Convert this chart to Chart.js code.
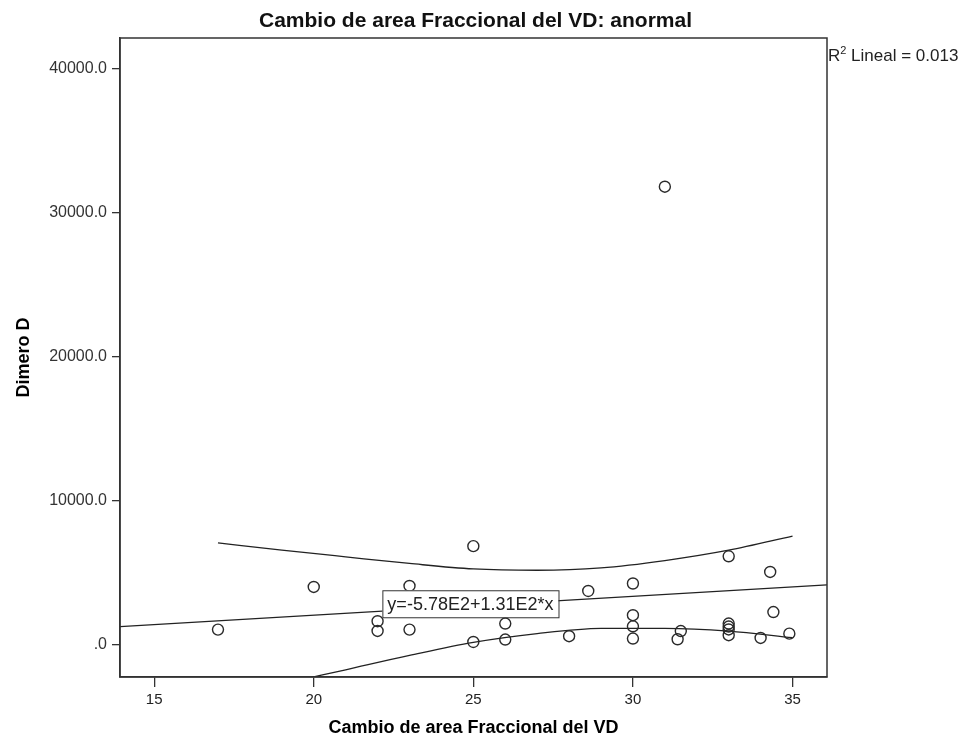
<!DOCTYPE html>
<html><head><meta charset="utf-8">
<script src="https://cdn.jsdelivr.net/npm/chart.js@4.4.1/dist/chart.umd.min.js"></script>
<style>html,body{margin:0;padding:0;background:#fff}</style>
</head><body>
<canvas id="c" width="962" height="746" style="display:block;width:962px;height:746px"></canvas>
<script>
const chartTitle = 'Cambio de area Fraccional del VD: anormal';
const xAxisTitle = 'Cambio de area Fraccional del VD';
const yAxisTitle = 'Dimero D';
const xTicks = [15, 20, 25, 30, 35];
const yTicks = [0, 10000, 20000, 30000, 40000];
const xRange = [13.93, 36.08];
const yRange = [-2250, 42100];

// observed points (Cambio de area Fraccional del VD, Dimero D)
const pointX = [17, 20, 22, 22, 23, 23, 25, 25, 26, 26, 28, 28.6, 30, 30, 30, 30, 31, 31.4, 31.5, 33, 33, 33, 33, 33, 34, 34.3, 34.4, 34.9];
const pointY = [1040, 4000, 1620, 945, 4070, 1040, 6830, 180, 1460, 350, 580, 3720, 4240, 2040, 1270, 420, 31780, 370, 940, 6130, 1460, 1250, 1050, 650, 460, 5040, 2260, 760];

// linear fit line (ends at plot edges)
const fitX = [13.93, 36.08];
const fitY = [1247, 4148];

// confidence curves
const ciX = [17, 19, 21, 23, 25, 27, 29, 31, 33, 35];
const ciUpper = [7060, 6560, 6090, 5630, 5250, 5160, 5320, 5830, 6550, 7530];
const ciLower = [-3760, -2740, -1750, -755, 150, 760, 1120, 1130, 940, 480];

const equationText = 'y=-5.78E2+1.31E2*x';
const equationAnchor = [22.15, 3770];
const r2Text = 'Lineal = 0.013';

const FONT = "'Liberation Sans', Arial, sans-serif";
const INK = '#222';

const toXY = (xs, ys) => xs.map((x, i) => ({x: x, y: ys[i]}));

const overlay = {
  id: 'overlay',
  afterDatasetsDraw(chart) {
    const {ctx, chartArea: a, scales} = chart;
    ctx.save();
    // frame
    ctx.strokeStyle = '#333';
    ctx.lineWidth = 1.5;
    ctx.strokeRect(a.left, a.top, a.right - a.left, a.bottom - a.top);
    // equation label
    const px = scales.x.getPixelForValue(equationAnchor[0]);
    const py = scales.y.getPixelForValue(equationAnchor[1]);
    ctx.font = '18px ' + FONT;
    const w = ctx.measureText(equationText).width + 10;
    const h = 27;
    ctx.fillStyle = '#fff';
    ctx.fillRect(px, py, w, h);
    ctx.strokeStyle = '#333';
    ctx.lineWidth = 1;
    ctx.strokeRect(px + 0.5, py + 0.5, w, h);
    ctx.fillStyle = INK;
    ctx.textBaseline = 'middle';
    ctx.textAlign = 'left';
    ctx.fillText(equationText, px + 5, py + h / 2 + 1);
    // R2 label
    let rx = a.right + 1;
    const ry = 61;
    ctx.textBaseline = 'alphabetic';
    ctx.font = '17px ' + FONT;
    ctx.fillText('R', rx, ry);
    rx += ctx.measureText('R').width;
    ctx.font = '11px ' + FONT;
    ctx.fillText('2', rx, ry - 7);
    rx += ctx.measureText('2').width;
    ctx.font = '17px ' + FONT;
    ctx.fillText(' ' + r2Text, rx, ry);
    // chart title centred over the plot frame
    ctx.fillStyle = '#111';
    ctx.font = 'bold 21px ' + FONT;
    ctx.textAlign = 'center';
    ctx.textBaseline = 'middle';
    ctx.fillText(chartTitle, (a.left + a.right) / 2 + 2, 21);
    ctx.restore();
  }
};

new Chart(document.getElementById('c'), {
  type: 'scatter',
  data: {
    datasets: [
      {
        label: 'Dimero D',
        data: toXY(pointX, pointY),
        pointRadius: 5.5,
        pointBorderWidth: 1.4,
        borderColor: '#2a2a2a',
        backgroundColor: 'rgba(0,0,0,0)',
        pointStyle: 'circle',
        showLine: false
      },
      {
        label: 'Lineal',
        data: toXY(fitX, fitY),
        showLine: true,
        pointRadius: 0,
        borderColor: INK,
        borderWidth: 1.3
      },
      {
        label: 'IC superior',
        data: toXY(ciX, ciUpper),
        showLine: true,
        pointRadius: 0,
        borderColor: INK,
        borderWidth: 1.3,
        cubicInterpolationMode: 'monotone'
      },
      {
        label: 'IC inferior',
        data: toXY(ciX, ciLower),
        showLine: true,
        pointRadius: 0,
        borderColor: INK,
        borderWidth: 1.3,
        cubicInterpolationMode: 'monotone'
      }
    ]
  },
  options: {
    responsive: false,
    animation: false,
    events: [],
    layout: {padding: {left: 0, right: 135, top: 38, bottom: 0}},
    plugins: {
      legend: {display: false},
      tooltip: {enabled: false},
      title: {display: false}
    },
    scales: {
      x: {
        type: 'linear',
        min: xRange[0],
        max: xRange[1],
        afterBuildTicks(s) { s.ticks = xTicks.map(v => ({value: v})); },
        afterFit(s) { s.height = 69; },
        ticks: {
          color: INK,
          font: {family: FONT, size: 15},
          padding: 4,
          maxRotation: 0,
          autoSkip: false,
          callback: v => String(v)
        },
        grid: {drawOnChartArea: false, drawTicks: true, tickLength: 10, color: '#333', lineWidth: 1.3},
        border: {display: true, color: '#333', width: 1.5},
        title: {
          display: true,
          text: xAxisTitle,
          color: '#000',
          font: {family: FONT, size: 18, weight: 'bold'},
          padding: {top: 0, bottom: 7}
        }
      },
      y: {
        type: 'linear',
        min: yRange[0],
        max: yRange[1],
        afterBuildTicks(s) { s.ticks = yTicks.map(v => ({value: v})); },
        afterFit(s) { s.width = 120; },
        ticks: {
          color: '#333',
          font: {family: FONT, size: 16},
          padding: 5,
          autoSkip: false,
          callback: v => v === 0 ? '.0' : v.toFixed(1)
        },
        grid: {drawOnChartArea: false, drawTicks: true, tickLength: 8, color: '#333', lineWidth: 1.3},
        border: {display: true, color: '#333', width: 1.5},
        title: {
          display: true,
          text: yAxisTitle,
          color: '#000',
          font: {family: FONT, size: 18, weight: 'bold'},
          padding: {top: 13, bottom: 0}
        }
      }
    }
  },
  plugins: [overlay]
});
</script>
</body></html>
